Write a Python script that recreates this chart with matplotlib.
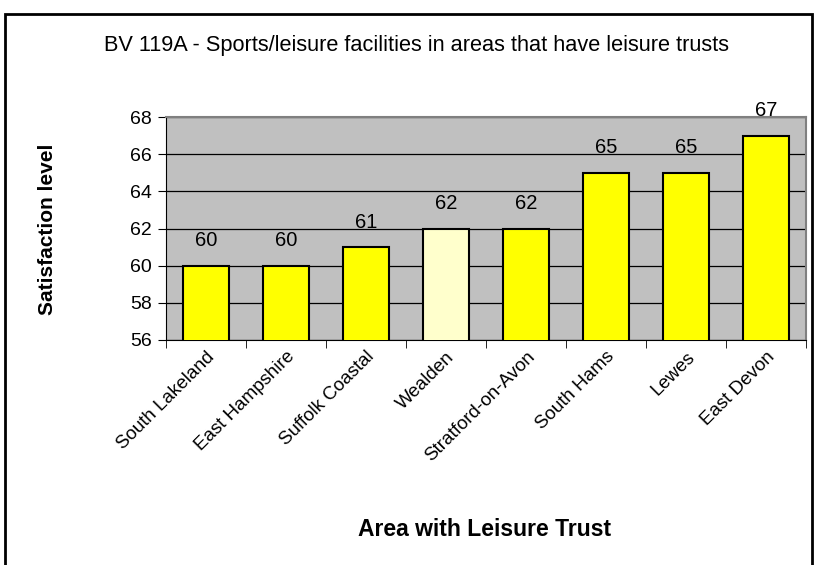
import matplotlib
matplotlib.use("Agg")
import matplotlib.pyplot as plt
from matplotlib.patches import Rectangle

plt.rcParams['font.family'] = ['Liberation Sans', 'DejaVu Sans']

categories = ["South Lakeland", "East Hampshire", "Suffolk Coastal", "Wealden",
              "Stratford-on-Avon", "South Hams", "Lewes", "East Devon"]
values = [60, 60, 61, 62, 62, 65, 65, 67]
bar_colors = ["#FFFF00", "#FFFF00", "#FFFF00", "#FFFFCC",
              "#FFFF00", "#FFFF00", "#FFFF00", "#FFFF00"]
yticks = [56, 58, 60, 62, 64, 66, 68]

W, H = 814, 565
fig = plt.figure(figsize=(W / 100, H / 100), dpi=100)
fig.patch.set_facecolor("white")

# figure border
fig.add_artist(Rectangle((5 / W, -0.02), (812 - 5) / W, 1 - 14 / H + 0.02,
                         transform=fig.transFigure, fill=False,
                         edgecolor="black", linewidth=2))

ax = fig.add_axes([166 / W, 1 - 340 / H, (806 - 166) / W, (340 - 117) / H])
ax.set_facecolor("#C0C0C0")
x = list(range(len(categories)))
ax.bar(x, values, width=0.58, bottom=0, color=bar_colors, edgecolor="black",
       linewidth=1.5, zorder=3)
ax.set_xlim(-0.5, len(categories) - 0.5)
ax.set_ylim(56, 68)
ax.set_yticks(yticks)
ax.set_yticklabels([str(v) for v in yticks], fontsize=14)
ax.yaxis.grid(True, color="black", linewidth=0.9, zorder=1)
ax.set_axisbelow(True)

ax.set_xticks(x)
ax.set_xticklabels(categories, rotation=45, ha="right", rotation_mode="anchor",
                   fontsize=13.5)
ax.tick_params(axis="x", length=0, pad=6)
# minor ticks between categories
ax.set_xticks([i - 0.5 for i in range(len(categories) + 1)], minor=True)
ax.tick_params(axis="x", which="minor", length=6, color="black")
ax.tick_params(axis="y", length=6, color="black", pad=4)

for s in ["top", "right"]:
    ax.spines[s].set_color("#808080")
    ax.spines[s].set_linewidth(1.5)
for s in ["left", "bottom"]:
    ax.spines[s].set_color("black")

for xi, v in zip(x, values):
    ax.annotate(str(v), (xi, v), xytext=(0, 11), textcoords="offset points",
                ha="center", va="bottom", fontsize=14.5, annotation_clip=False)

fig.text(416 / W, 1 - 45 / H,
         "BV 119A - Sports/leisure facilities in areas that have leisure trusts",
         ha="center", va="center", fontsize=15.7)
fig.text(48 / W, 1 - 229 / H, "Satisfaction level", rotation=90,
         ha="center", va="center", fontsize=15, fontweight="bold")
fig.text(485 / W, 1 - 530 / H, "Area with Leisure Trust",
         ha="center", va="center", fontsize=16.5, fontweight="bold")

fig.savefig("out.png", dpi=100)
